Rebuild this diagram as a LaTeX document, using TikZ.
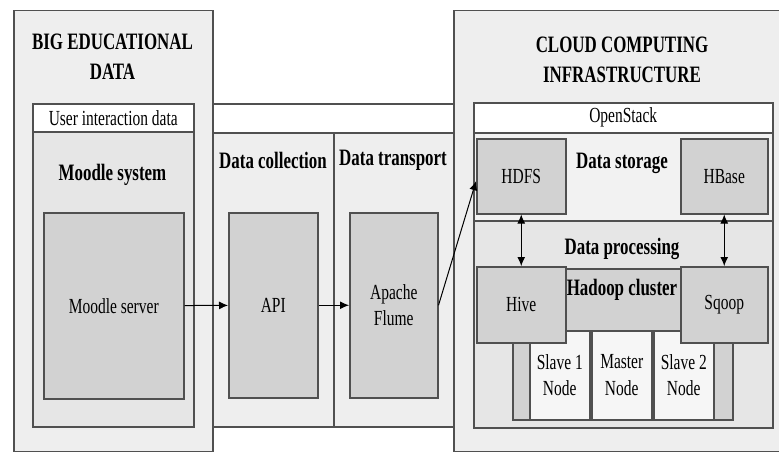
\documentclass[tikz,border=0pt]{standalone}
\usepackage{fontspec}
\setmainfont[FakeStretch=0.72]{Liberation Serif}
\usetikzlibrary{positioning,arrows.meta}
\definecolor{boxline}{RGB}{80,80,80}
\definecolor{panelgray}{RGB}{238,238,238}
\definecolor{zonegray}{RGB}{230,230,230}
\definecolor{storegray}{RGB}{242,242,242}
\definecolor{blockgray}{RGB}{210,210,210}
\definecolor{nodewhite}{RGB}{246,246,246}
\newcommand{\headfont}{\fontsize{23.5}{30}\selectfont\bfseries}
\newcommand{\bodyfont}{\fontsize{21.5}{26.7}\selectfont}

\begin{document}
\begin{tikzpicture}[x=1pt, y=-1pt,
    sz/.style 2 args={minimum width=#1pt, minimum height=#2pt},
    panel/.style={draw=boxline, line width=1.5pt, fill=panelgray,
                  inner sep=0pt, anchor=north west},
    zone/.style={panel, fill=zonegray},
    strip/.style={panel, fill=white, font=\bodyfont},
    block/.style={panel, fill=blockgray, align=center, font=\bodyfont},
    worker/.style={panel, fill=nodewhite, align=center, font=\bodyfont},
    head/.style={align=center, font=\headfont, inner sep=0pt},
    arr/.style={-{Latex[length=9pt,width=8pt]}, line width=1pt},
    dbl/.style={{Latex[length=9pt,width=8pt]}-{Latex[length=9pt,width=8pt]}, line width=1pt}
  ]
  \useasboundingbox (0,0) rectangle (779,452);

  %% ---- left panel: educational data
  \node[panel, sz={199}{441}]        (edu)      at (13,10)   {};
  \node[head]                        (edutitle) at (112.5,57) {BIG EDUCATIONAL\\DATA};
  \node[strip, sz={161}{28}]         (uid)      at (32,103)  {User interaction data};
  \node[zone, sz={161}{295}]         (moodle)   at (32,131)  {};
  \node[head]                        (moodlelbl) at (112.5,175) {Moodle system};
  \node[block, sz={140}{186}]        (server)   at (43,212)  {Moodle server};

  %% ---- middle panel: collection and transport
  \node[strip, sz={241}{29}]         (midtop)   at (212,103) {};
  \node[panel, sz={121}{294}]        (collect)  at (212,132) {};
  \node[panel, sz={120}{294}]        (transport) at (333,132) {};
  \node[head]                        (colllbl)  at (273,160) {Data collection};
  \node[head]                        (translbl) at (393,160) {Data transport};
  \node[block, sz={89}{185}]         (api)      at (228,212) {API};
  \node[block, sz={88}{185}]         (flume)    at (349,212) {Apache\\Flume};

  %% ---- right panel: cloud infrastructure
  \node[panel, sz={340}{441}]        (cloud)    at (453,10)  {};
  \node[head]                        (cloudtitle) at (622,60) {CLOUD COMPUTING\\INFRASTRUCTURE};
  \node[strip, sz={299}{30}]         (openstack) at (473,102) {OpenStack};
  \node[panel, fill=storegray, sz={299}{88}] (storage) at (473,132) {};
  \node[zone, sz={299}{207}]         (process)  at (473,220) {};
  \node[head]                        (storelbl) at (622,163) {Data storage};
  \node[head]                        (proclbl)  at (622,249) {Data processing};
  \node[block, sz={89}{75}]          (hdfs)     at (476,138) {HDFS};
  \node[block, sz={87}{75}]          (hbase)    at (680,138) {HBase};

  %% hadoop cluster sits behind hive / sqoop
  \node[block, sz={220}{151}]        (hadoop)   at (512,268) {};
  \node[head]                        (hadooplbl) at (622,290) {Hadoop cluster};
  \node[worker, sz={60}{89}]         (slaveone) at (529,330) {Slave 1\\Node};
  \node[worker, sz={60}{89}]         (master)   at (591,330) {Master\\Node};
  \node[worker, sz={60}{89}]         (slavetwo) at (653,330) {Slave 2\\Node};
  \node[block, sz={89}{76}]          (hive)     at (476,266) {Hive};
  \node[block, sz={87}{76}]          (sqoop)    at (680,266) {Sqoop};

  %% ---- connectors
  \draw[arr] (server) -- (api);
  \draw[arr] (api)    -- (flume);
  \draw[arr] (flume.east) -- ([yshift=-5pt]hdfs.west);
  \draw[dbl] (hdfs)   -- (hive);
  \draw[dbl] (hbase)  -- (sqoop);
\end{tikzpicture}
\end{document}
